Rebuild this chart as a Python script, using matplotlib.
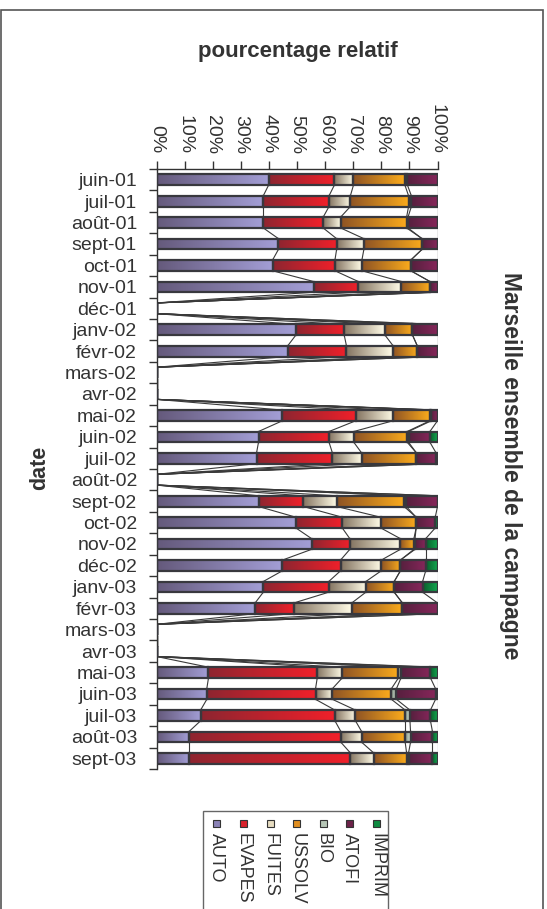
import numpy as np
import matplotlib
matplotlib.use("Agg")
import matplotlib.pyplot as plt
from matplotlib.patches import Rectangle
from matplotlib.colors import to_rgb

plt.rcParams['font.family'] = ['Liberation Sans', 'DejaVu Sans']

# ---- data -------------------------------------------------------------
dates = ["juin-01", "juil-01", "août-01", "sept-01", "oct-01", "nov-01",
         "déc-01", "janv-02", "févr-02", "mars-02", "avr-02", "mai-02",
         "juin-02", "juil-02", "août-02", "sept-02", "oct-02", "nov-02",
         "déc-02", "janv-03", "févr-03", "mars-03", "avr-03", "mai-03",
         "juin-03", "juil-03", "août-03", "sept-03"]

AUTO   = [39.9, 38.0, 38.0, 43.4, 41.3, 55.9, 0, 49.6, 46.7, 0, 0, 44.8, 36.3, 35.6,
          0, 36.3, 49.6, 55.2, 44.8, 38.0, 35.1, 0, 0, 18.5, 17.9, 15.7, 11.6, 11.6]
EVAPES = [23.4, 23.4, 21.3, 20.7, 22.2, 15.9, 0, 17.2, 20.9, 0, 0, 26.1, 25.1, 27.0,
          0, 15.9, 16.5, 13.6, 20.7, 23.3, 13.8, 0, 0, 38.7, 38.7, 47.8, 54.0, 57.4]
FUITES = [6.8, 7.6, 6.2, 9.7, 9.6, 15.3, 0, 14.5, 16.6, 0, 0, 13.3, 8.8, 10.4,
          0, 11.9, 13.7, 18.0, 14.5, 13.2, 20.6, 0, 0, 8.9, 6.0, 7.3, 7.4, 8.3]
USSOLV = [18.3, 20.7, 23.5, 20.7, 17.4, 10.2, 0, 9.8, 8.6, 0, 0, 13.1, 19.0, 19.5,
          0, 24.0, 12.6, 4.8, 6.8, 10.1, 18.0, 0, 0, 20.0, 21.0, 17.7, 15.5, 11.7]
BIO    = [0.9, 1.0, 0.5, 0, 0, 0, 0, 0, 0, 0, 0, 0.5, 0.5, 0,
          0, 0.8, 0, 0.4, 0, 0, 0, 0, 0, 0.9, 1.8, 1.7, 1.9, 0.7]
ATOFI  = [10.7, 9.3, 10.5, 5.5, 9.5, 2.7, 0, 8.9, 7.2, 0, 0, 2.2, 7.6, 7.0,
          0, 11.1, 6.8, 3.8, 9.0, 10.1, 12.5, 0, 0, 10.5, 13.9, 7.3, 7.8, 8.5]
IMPRIM = [0, 0, 0, 0, 0, 0, 0, 0, 0, 0, 0, 0, 2.7, 0.5,
          0, 0, 0.8, 4.2, 4.2, 5.3, 0, 0, 0, 2.5, 0.7, 2.5, 1.8, 1.8]

series_names = ["AUTO", "EVAPES", "FUITES", "USSOLV", "BIO", "ATOFI", "IMPRIM"]
value_ticks = [0, 10, 20, 30, 40, 50, 60, 70, 80, 90, 100]
tick_labels = [f"{v}%" for v in value_ticks]

# gradient end colours (dark -> light) for each series
grad_colors = [("#655a7c", "#a39ed6"),
               ("#8e2530", "#f0202a"),
               ("#857562", "#fffbe6"),
               ("#8f5424", "#fbab1c"),
               ("#7f8f80", "#d6e4d6"),
               ("#56203e", "#86265a"),
               ("#0b5f2c", "#12a850")]
legend_colors = ["#8a82b6", "#d8212b", "#e6dcc0", "#e08e20", "#b6c6b6", "#6c2249", "#0e8a40"]

# ---- figure -----------------------------------------------------------
W, H = 547, 909
fig = plt.figure(figsize=(W / 100, H / 100), dpi=100)
fx = lambda px: px / W
fy = lambda py: 1 - py / H

TXT = "#333333"
EDGE = "#38383e"

ax_left, ax_right, ax_top, ax_bot = 156.5, 437.5, 169, 769
ax = fig.add_axes([fx(ax_left), fy(ax_bot), fx(ax_right) - fx(ax_left),
                   (ax_bot - ax_top) / H])

data = np.array([AUTO, EVAPES, FUITES, USSOLV, BIO, ATOFI, IMPRIM], dtype=float).T
totals = data.sum(axis=1)
pct = np.divide(data * 100.0, totals[:, None], out=np.zeros_like(data),
                where=totals[:, None] > 0)
cum = np.cumsum(pct, axis=1)
n = len(dates)
ypos = np.arange(n)
bar_h = 0.5

# series lines between consecutive bars
for i in range(n - 1):
    for k in range(len(series_names)):
        ax.plot([cum[i, k], cum[i + 1, k]],
                [ypos[i] + bar_h / 2, ypos[i + 1] - bar_h / 2],
                color="#3a3a3a", lw=0.8, zorder=1.5, solid_capstyle="butt")

# stacked bars with horizontal gradient fill
for k, name in enumerate(series_names):
    left = cum[:, k] - pct[:, k]
    bars = ax.barh(ypos, pct[:, k], left=left, height=bar_h,
                   facecolor="none", edgecolor=EDGE, linewidth=1.6, zorder=3)
    c0 = np.array(to_rgb(grad_colors[k][0]))
    c1 = np.array(to_rgb(grad_colors[k][1]))
    t = np.linspace(0, 1, 64)[None, :, None]
    img = c0 * (1 - t) + c1 * t
    for p in bars.patches:
        if p.get_width() <= 0:
            continue
        x0, y0 = p.get_x(), p.get_y()
        ax.imshow(img, extent=[x0, x0 + p.get_width(), y0 + p.get_height(), y0],
                  aspect="auto", interpolation="bilinear", zorder=2)

ax.set_xlim(0, 100)
ax.set_ylim(n - 0.5, -0.5)

# value axis on top
ax.xaxis.tick_top()
ax.set_xticks(value_ticks)
ax.set_xticklabels(tick_labels, rotation=-90, fontsize=14, color=TXT)
ax.tick_params(axis="x", direction="out", length=6, width=1, color="#333333", pad=5)

# category axis on the left
ax.set_yticks(ypos)
ax.set_yticklabels(dates, fontsize=14, color=TXT)
ax.tick_params(axis="y", which="major", length=0, pad=14)
ax.set_yticks(np.arange(n + 1) - 0.5, minor=True)
ax.tick_params(axis="y", which="minor", direction="out", length=6, width=1, color="#333333")

for s in ["right", "bottom"]:
    ax.spines[s].set_visible(False)
for s in ["left", "top"]:
    ax.spines[s].set_color("#333333")
    ax.spines[s].set_linewidth(1.0)
ax.set_facecolor("none")

# titles
fig.text(fx(298), fy(52), "pourcentage relatif", fontsize=16, fontweight="bold",
         color=TXT, ha="center", va="center")
fig.text(fx(40), fy(468), "date", fontsize=15.5, fontweight="bold", color=TXT,
         rotation=90, ha="center", va="center")
fig.text(fx(510), fy(466), "Marseille ensemble de la campagne", fontsize=16.5,
         fontweight="bold", color=TXT, rotation=-90, ha="center", va="center")

# outer frame
fig.patches.append(Rectangle((fx(1), fy(930)), fx(543) - fx(1), (930 - 10) / H,
                             transform=fig.transFigure, fill=False,
                             edgecolor="#555555", lw=1.2))

# legend (vertical labels)
fig.patches.append(Rectangle((fx(203), fy(930)), fx(388) - fx(203), (930 - 811) / H,
                             transform=fig.transFigure, fill=False,
                             edgecolor="#666666", lw=1.0))
for k, lab in enumerate(series_names):
    cx = 216.7 + k * 26.65
    fig.patches.append(Rectangle((fx(cx - 3.5), fy(826.5)), 7 / W, 7 / H,
                                 transform=fig.transFigure,
                                 facecolor=legend_colors[k], edgecolor="#333333", lw=0.8))
    fig.text(fx(cx), fy(833), lab, fontsize=13, color=TXT, rotation=-90,
             ha="center", va="top")

fig.savefig("out.png", dpi=100)
